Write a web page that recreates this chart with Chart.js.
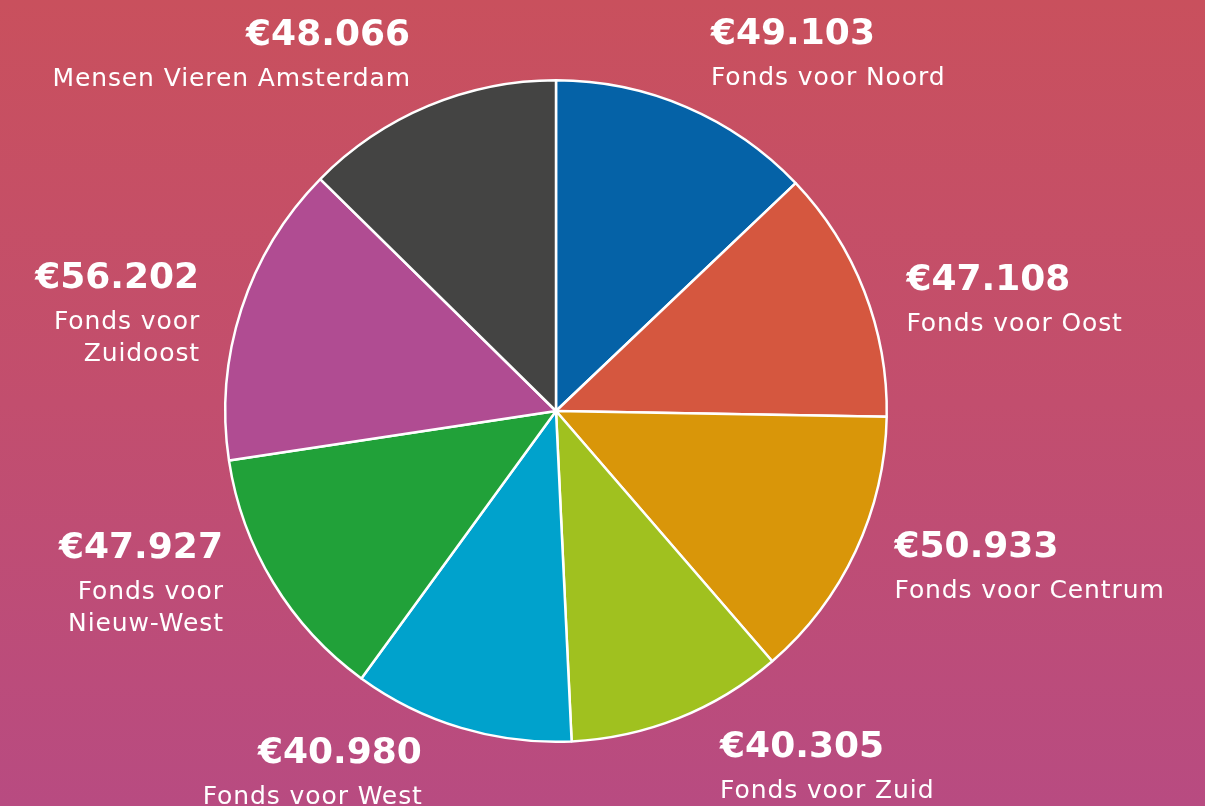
<!DOCTYPE html>
<html>
<head>
<meta charset="utf-8">
<script src="https://cdn.jsdelivr.net/npm/chart.js@4"></script>
<style>
  html, body { margin: 0; padding: 0; }
  body {
    width: 1205px; height: 806px; overflow: hidden;
    background: linear-gradient(180deg, #c9505d 0%, #c24e6e 50%, #b84b81 100%);
  }
  .wrap { position: relative; width: 1205px; height: 806px; }
</style>
</head>
<body>
<div class="wrap"><canvas id="pie"></canvas></div>
<script>
// slices clockwise from 12 o'clock
const fonds = ["Fonds voor Noord", "Fonds voor Oost", "Fonds voor Centrum", "Fonds voor Zuid",
  "Fonds voor West", "Fonds voor Nieuw-West", "Fonds voor Zuidoost", "Mensen Vieren Amsterdam"];
const bedragen = [49103, 47108, 50933, 40305, 40980, 47927, 56202, 48066];
const kleuren = ["#0562a7", "#d5573f", "#d99609", "#a0c11f", "#00a2cc", "#21a139", "#b04c92", "#444443"];
// how each name breaks over lines in the label
const naamRegels = [
  ["Fonds voor Noord"], ["Fonds voor Oost"], ["Fonds voor Centrum"], ["Fonds voor Zuid"],
  ["Fonds voor West"], ["Fonds voor", "Nieuw-West"], ["Fonds voor", "Zuidoost"], ["Mensen Vieren Amsterdam"]
];
// small hand nudges for the label blocks (px), same order as the slices
const labelNudge = [[5, -7], [-4, 27], [-6, -5], [23, 3], [-25, -2], [-8, -25], [5, 20], [1, -5]];

const fontSans = "'DejaVu Sans', 'Open Sans', sans-serif";
const euro = v => '€' + v.toLocaleString('de-DE');

const labelPlugin = {
  id: 'outerLabels',
  afterDatasetsDraw(chart) {
    const ctx = chart.ctx;
    const meta = chart.getDatasetMeta(0);
    meta.data.forEach((arc, i) => {
      const mid = (arc.startAngle + arc.endAngle) / 2;
      const r = arc.outerRadius * 1.15;
      const rechts = Math.cos(mid) > 0;
      const x = arc.x + Math.cos(mid) * r + labelNudge[i][0];
      const y = arc.y + Math.sin(mid) * r + labelNudge[i][1];
      const lines = naamRegels[i];
      const blockH = 42 + lines.length * 31;
      const top = y - blockH / 2;
      ctx.save();
      ctx.fillStyle = '#ffffff';
      ctx.textAlign = rechts ? 'left' : 'right';
      ctx.textBaseline = 'middle';
      ctx.font = "700 36px " + fontSans;
      ctx.letterSpacing = '0px';
      ctx.fillText(euro(bedragen[i]), x, top + 17);
      ctx.font = "400 25px " + fontSans;
      ctx.letterSpacing = '0.9px';
      lines.forEach((l, j) => ctx.fillText(l, rechts ? x : x + 0.9, top + 61 + j * 31.5));
      ctx.restore();
    });
  }
};

new Chart(document.getElementById('pie'), {
  type: 'pie',
  data: {
    labels: fonds,
    datasets: [{
      data: bedragen,
      backgroundColor: kleuren,
      borderColor: '#ffffff',
      borderWidth: 2.5,
      hoverOffset: 0,
    }]
  },
  options: {
    responsive: true, maintainAspectRatio: false, animation: false,
    layout: { padding: { top: 79, bottom: 63, left: 224, right: 317 } },
    plugins: { legend: { display: false }, tooltip: { enabled: false } }
  },
  plugins: [labelPlugin]
});
</script>
</body>
</html>
